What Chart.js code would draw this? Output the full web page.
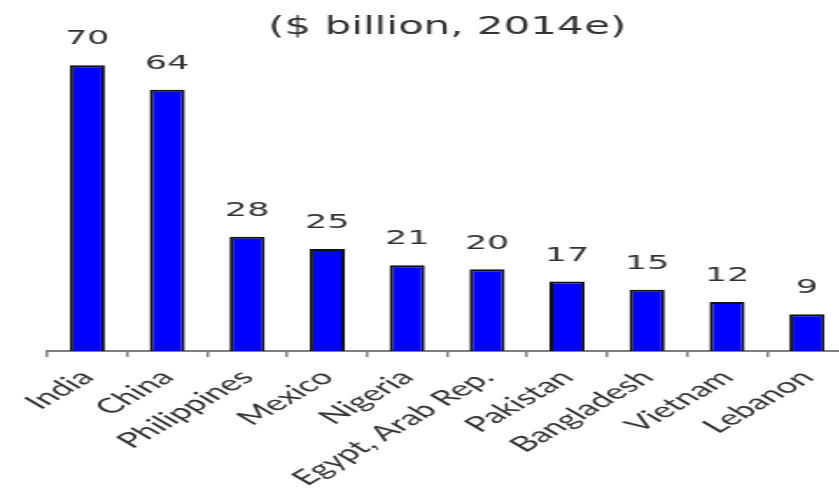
<!DOCTYPE html>
<html>
<head>
<meta charset="utf-8">
<script src="https://cdn.jsdelivr.net/npm/chart.js@4"></script>
<style>
  body { margin: 0; background: #fff; }
  #wrap { width: 839px; height: 500px; overflow: hidden; }
  /* the reference is stretched sideways, so draw narrow and scale the box */
  #inner { width: 490px; height: 500px; transform: scaleX(1.75); transform-origin: 0 0; }
</style>
</head>
<body>
<div id="wrap"><div id="inner"><canvas id="remitChart"></canvas></div></div>
<script>
const countries = ["India", "China", "Philippines", "Mexico", "Nigeria", "Egypt, Arab Rep.", "Pakistan", "Bangladesh", "Vietnam", "Lebanon"];
const remittances = [70, 64, 28, 25, 21, 20, 17, 15, 12, 9];
const titleText = "($ billion, 2014e)";

const textColor = "#333333";

// draws the number over each bar
const valueLabels = {
    id: "valueLabels",
    afterDatasetsDraw(chart) {
        const ctx = chart.ctx;
        const meta = chart.getDatasetMeta(0);
        ctx.save();
        ctx.font = "20px 'DejaVu Sans'";
        ctx.fillStyle = textColor;
        ctx.textAlign = "center";
        ctx.textBaseline = "middle";
        meta.data.forEach(function (bar, i) {
            ctx.fillText(remittances[i], bar.x, bar.y - 26);
        });
        ctx.restore();
    }
};

new Chart(document.getElementById("remitChart"), {
    type: "bar",
    data: {
        labels: countries,
        datasets: [{
            data: remittances,
            backgroundColor: "#0000ff",
            borderColor: "#111111",
            borderWidth: 2,
            barPercentage: 0.44,
            categoryPercentage: 1
        }]
    },
    options: {
        responsive: true,
        maintainAspectRatio: false,
        animation: false,
        layout: { padding: { left: 27, right: 6, top: 0, bottom: 0 } },
        plugins: {
            legend: { display: false },
            tooltip: { enabled: false },
            title: {
                display: true,
                text: titleText,
                color: textColor,
                font: { family: "'DejaVu Sans'", size: 24, weight: "normal" },
                padding: { top: 13, bottom: 3 }
            }
        },
        scales: {
            x: {
                afterFit: function (scale) { scale.height = 149; },
                grid: {
                    display: true,
                    drawOnChartArea: false,
                    tickLength: 6,
                    color: "#808080",
                    lineWidth: 1.5
                },
                border: { display: true, color: "#808080", width: 2 },
                ticks: {
                    autoSkip: false,
                    minRotation: 45,
                    maxRotation: 45,
                    padding: 8,
                    color: textColor,
                    font: { family: "Lato", size: 21 }
                }
            },
            y: {
                display: false,
                min: 0,
                max: 75
            }
        }
    },
    plugins: [valueLabels]
});
</script>
</body>
</html>
